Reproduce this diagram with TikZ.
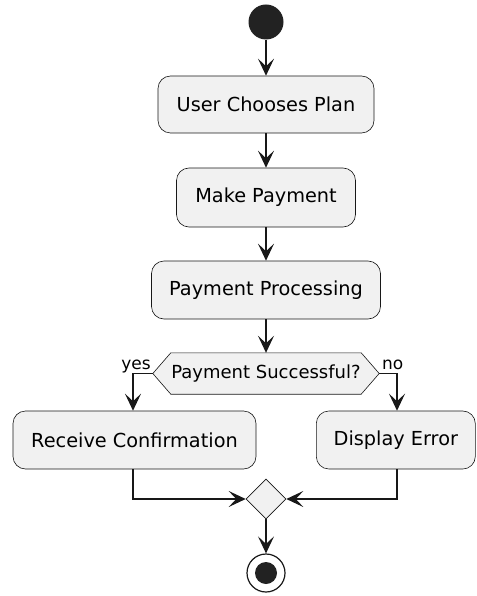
\documentclass[tikz,border=0pt]{standalone}
\usepackage{fontspec}
\setmainfont{DejaVu Sans}
\usetikzlibrary{arrows.meta,shapes.geometric,calc}
\definecolor{boxfill}{HTML}{F1F1F1}
\definecolor{boxline}{HTML}{181818}
\definecolor{dotfill}{HTML}{222222}
\tikzset{
  activity/.style={draw=boxline, line width=0.6pt, fill=boxfill, rounded corners=12.5pt,
    inner sep=0pt, font=\fontsize{19.3}{23}\selectfont, text=black},
  flow/.style={draw=boxline, line width=1.2pt,
    -{Stealth[length=17pt,width=16pt,inset=7.5pt]}},
  guard/.style={font=\fontsize{17}{20}\selectfont, inner sep=0pt},
}
\begin{document}
\begin{tikzpicture}[x=1pt,y=-1pt]
\useasboundingbox (0,0) rectangle (476,596);

% start marker
\node[circle, fill=dotfill, inner sep=0pt, minimum size=35pt] (start) at (266,22) {};

% activities on the main spine
\node[activity, minimum width=216pt, minimum height=57pt] (a1) at (266,104.5) {User Chooses Plan};
\node[activity, minimum width=179pt, minimum height=59pt] (a2) at (266,197.5) {Make Payment};
\node[activity, minimum width=229pt, minimum height=58pt] (a3) at (266,290) {Payment Processing};

% decision hexagon around its label
\node[inner sep=0pt, minimum width=190pt, minimum height=41pt] (dec) at (266,373.5) {};
\coordinate (decL) at ($(dec.west)+(-18,0)$);
\coordinate (decR) at ($(dec.east)+(18,0)$);
\draw[draw=boxline, line width=0.6pt, fill=boxfill]
  (decL) -- (dec.north west) -- (dec.north east) -- (decR)
  -- (dec.south east) -- (dec.south west) -- cycle;
\node[inner sep=0pt, font=\fontsize{18}{21}\selectfont] (dectext) at (dec) {Payment Successful?};

% branch activities
\node[activity, minimum width=243pt, minimum height=58pt] (a4) at (134.5,440) {Receive Confirmation};
\node[activity, minimum width=159pt, minimum height=58pt] (a5) at (395.8,440) {Display Error};

% merge point
\node[diamond, draw=boxline, line width=0.6pt, fill=boxfill, inner sep=0pt,
      minimum width=40pt, minimum height=40pt] (merge) at (266,499) {};

% end marker
\node[circle, draw=boxline, line width=1.2pt, fill=white, inner sep=0pt, minimum size=38pt] (stop) at (266,573) {};
\node[circle, fill=dotfill, inner sep=0pt, minimum size=22pt] (stopdot) at (stop) {};

% branch lanes
\coordinate (laneL) at (133,0);
\coordinate (laneR) at (397,0);

% connectors
\draw[flow] (start) -- (a1);
\draw[flow] (a1) -- (a2);
\draw[flow] (a2) -- (a3);
\draw[flow] (a3) -- (dec.north);
\draw[flow] (decL) -| (laneL |- a4.north);
\draw[flow] (decR) -| (laneR |- a5.north);
\draw[flow] (laneL |- a4.south) |- (merge.west);
\draw[flow] (laneR |- a5.south) |- (merge.east);
\draw[flow] (merge) -- (stop);

% guard labels
\node[guard, anchor=base east] (yes) at (151,369) {yes};
\node[guard, anchor=base west] (no) at (382,369) {no};
\end{tikzpicture}
\end{document}
